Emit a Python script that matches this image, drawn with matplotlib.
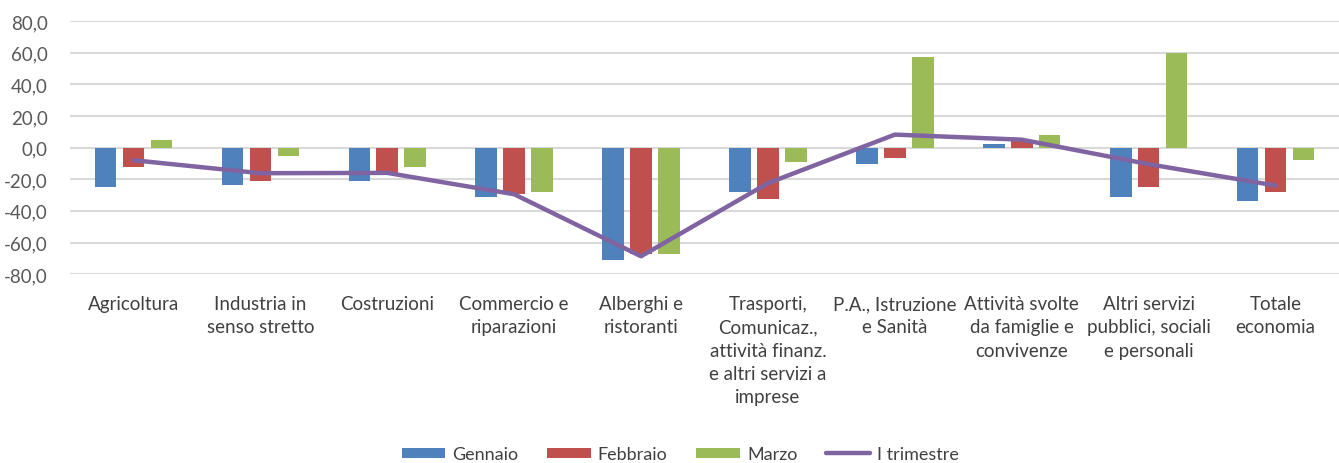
import matplotlib
matplotlib.use("Agg")
import matplotlib.pyplot as plt
import numpy as np

categories = ["Agricoltura", "Industria in\nsenso stretto", "Costruzioni",
              "Commercio e\nriparazioni", "Alberghi e\nristoranti",
              "Trasporti,\nComunicaz.,\nattività finanz.\ne altri servizi a\nimprese",
              "P.A., Istruzione\ne Sanità", "Attività svolte\nda famiglie e\nconvivenze",
              "Altri servizi\npubblici, sociali\ne personali", "Totale\neconomia"]
gennaio = [-25.1, -23.8, -20.9, -31.0, -71.3, -27.8, -10.5, 2.3, -31.0, -33.8]
febbraio = [-12.2, -20.9, -16.7, -29.5, -67.0, -32.5, -6.3, 4.0, -25.1, -28.0]
marzo = [5.1, -5.1, -12.2, -27.8, -67.0, -9.3, 57.0, 8.0, 60.0, -7.8]
trimestre = [-8.0, -16.2, -16.0, -29.5, -68.7, -22.5, 8.2, 5.0, -10.5, -24.0]
yticks = [-80, -60, -40, -20, 0, 20, 40, 60, 80]
ytick_labels = ["-80,0", "-60,0", "-40,0", "-20,0", "0,0", "20,0", "40,0", "60,0", "80,0"]

plt.rcParams['font.family'] = ['Lato', 'DejaVu Sans']

fig = plt.figure(figsize=(13.39, 4.64), dpi=100)
ax = fig.add_axes([0.0523, 0.407, 0.9477, 0.5456])

x = np.arange(len(categories))
w = 0.17
off = 0.22
b1 = ax.bar(x - off, gennaio, w, color="#4F81BD", label="Gennaio", zorder=2)
b2 = ax.bar(x, febbraio, w, color="#C0504D", label="Febbraio", zorder=2)
b3 = ax.bar(x + off, marzo, w, color="#9BBB59", label="Marzo", zorder=2)
l1, = ax.plot(x, trimestre, color="#8064A2", lw=3.2, label="I trimestre", zorder=3,
              solid_capstyle="round")

ax.set_xlim(-0.5, len(categories) - 0.5)
ax.set_ylim(-80, 80)
ax.set_yticks(yticks)
ax.set_yticklabels(ytick_labels)
ax.set_xticks(x)
ax.set_xticklabels(categories, linespacing=1.45)
ax.tick_params(axis="y", length=0, pad=16, labelsize=13.5, labelcolor="#595959")
ax.tick_params(axis="x", length=0, pad=15, labelsize=13.5, labelcolor="#404040")
ax.grid(axis="y", color="#D9D9D9", lw=1.5, zorder=0)
ax.set_axisbelow(True)
for s in ax.spines.values():
    s.set_visible(False)

fig.legend([b1, b2, b3, l1], ["Gennaio", "Febbraio", "Marzo", "I trimestre"],
           loc="lower center", bbox_to_anchor=(0.508, -0.024), ncol=4, frameon=False,
           fontsize=13, handlelength=2.4, handleheight=0.55, columnspacing=1.6,
           handletextpad=0.4, labelcolor="#404040", borderpad=0.15)

fig.savefig("out.png", dpi=100)
